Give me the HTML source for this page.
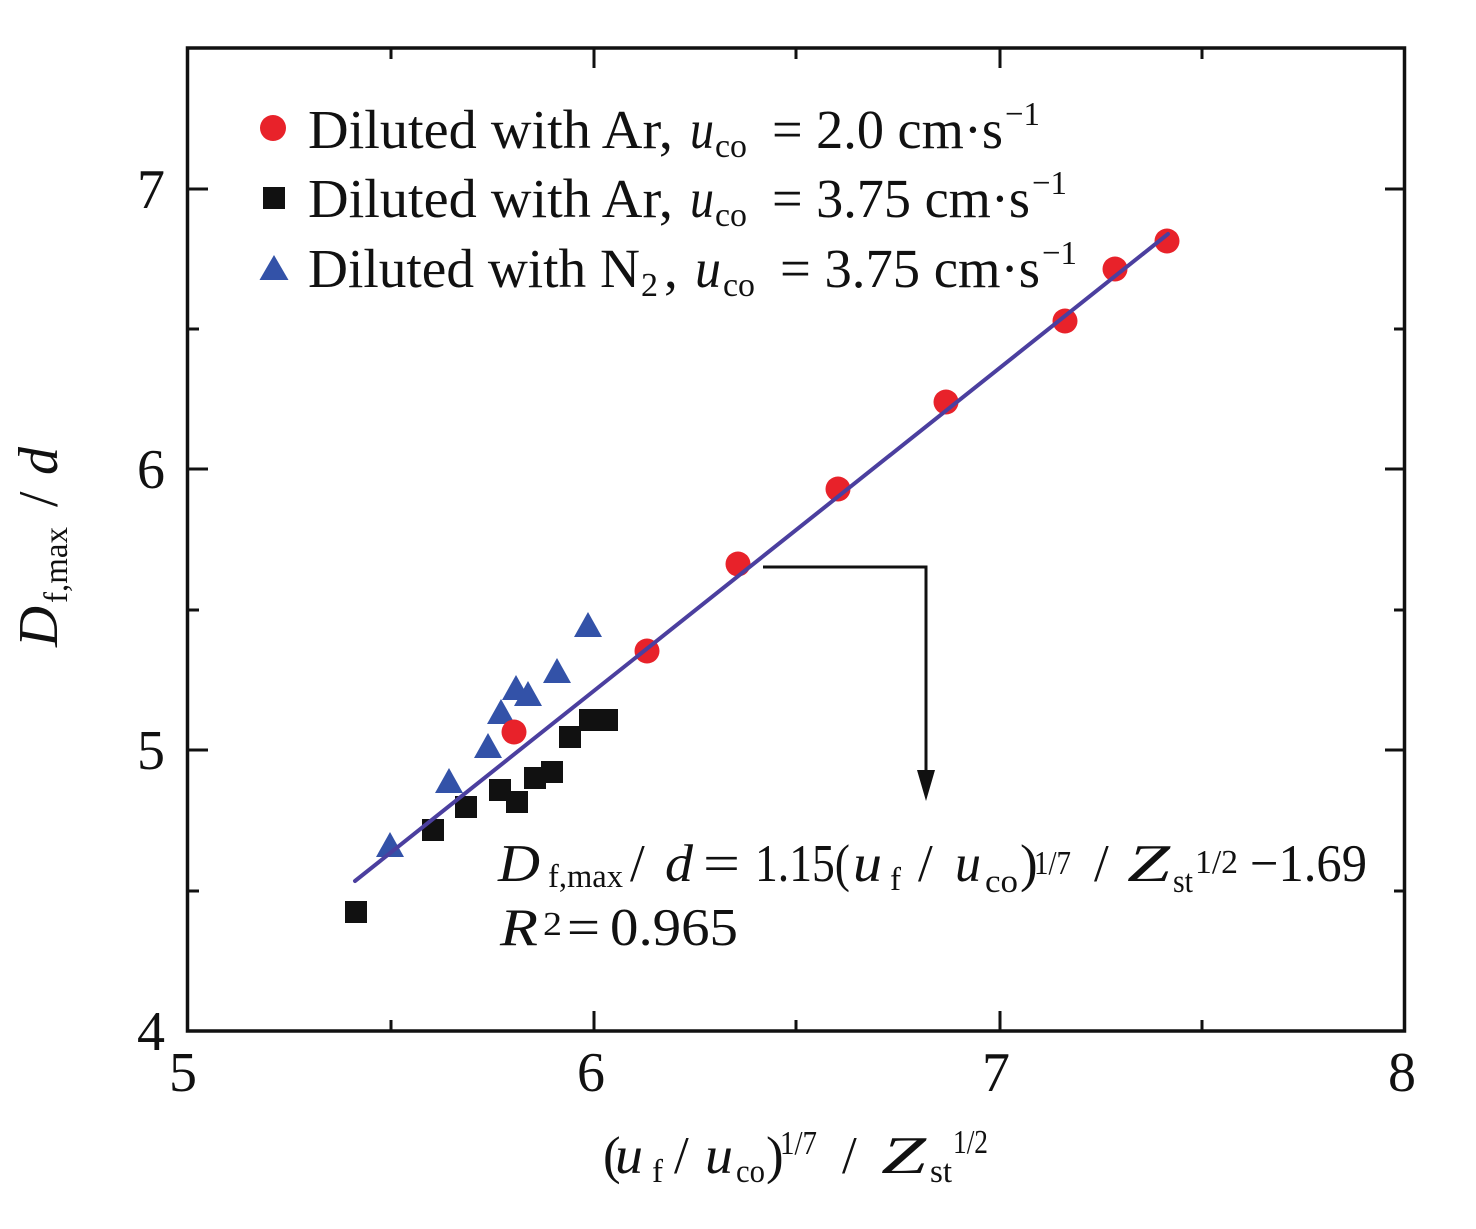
<!DOCTYPE html>
<html>
<head>
<meta charset="utf-8">
<style>
  html, body { margin: 0; padding: 0; background: #ffffff; }
  svg { display: block; }
  text { font-family: "Liberation Serif", "DejaVu Serif", serif; fill: #111; }
  .it { font-style: italic; }
</style>
</head>
<body>
<svg width="1476" height="1229" viewBox="0 0 1476 1229" xmlns="http://www.w3.org/2000/svg">
  <rect x="0" y="0" width="1476" height="1229" fill="#ffffff"/>

  <!-- Frame -->
  <rect x="187.5" y="48" width="1217" height="983" fill="none" stroke="#111" stroke-width="3.5"/>

  <g stroke="#111" stroke-width="3">
    <line x1="391" y1="1031" x2="391" y2="1020"/>
    <line x1="594" y1="1031" x2="594" y2="1011"/>
    <line x1="796" y1="1031" x2="796" y2="1020"/>
    <line x1="1000" y1="1031" x2="1000" y2="1011"/>
    <line x1="1202" y1="1031" x2="1202" y2="1020"/>
    <line x1="391" y1="48" x2="391" y2="59"/>
    <line x1="594" y1="48" x2="594" y2="68"/>
    <line x1="796" y1="48" x2="796" y2="59"/>
    <line x1="1000" y1="48" x2="1000" y2="68"/>
    <line x1="1202" y1="48" x2="1202" y2="59"/>
    <line x1="188" y1="891" x2="199" y2="891"/>
    <line x1="188" y1="750" x2="208" y2="750"/>
    <line x1="188" y1="610" x2="199" y2="610"/>
    <line x1="188" y1="469" x2="208" y2="469"/>
    <line x1="188" y1="329" x2="199" y2="329"/>
    <line x1="188" y1="189" x2="208" y2="189"/>
    <line x1="1405" y1="891" x2="1394" y2="891"/>
    <line x1="1405" y1="750" x2="1385" y2="750"/>
    <line x1="1405" y1="610" x2="1394" y2="610"/>
    <line x1="1405" y1="469" x2="1385" y2="469"/>
    <line x1="1405" y1="329" x2="1394" y2="329"/>
    <line x1="1405" y1="189" x2="1385" y2="189"/>
  </g>

  <!-- Y tick labels -->
  <g font-size="56" text-anchor="middle">
    <text x="151" y="208">7</text>
    <text x="151" y="488">6</text>
    <text x="151" y="769">5</text>
    <text x="151" y="1050">4</text>
  </g>
  <!-- X tick labels -->
  <g font-size="56" text-anchor="middle">
    <text x="183" y="1091">5</text>
    <text x="591" y="1091">6</text>
    <text x="996" y="1091">7</text>
    <text x="1402" y="1091">8</text>
  </g>

  <!-- Y axis title (rotated) -->
  <g transform="translate(57,647) rotate(-90)">
    <text x="0" y="0" font-size="56" class="it" textLength="41" lengthAdjust="spacingAndGlyphs">D</text>
    <text x="44" y="10" font-size="34" textLength="76" lengthAdjust="spacingAndGlyphs">f,max</text>
    <text x="140" y="0" font-size="56">/</text>
    <text x="172" y="0" font-size="56" class="it">d</text>
  </g>

  <!-- X axis title -->
  <g>
    <text x="603" y="1173" font-size="53">(</text>
    <text x="615" y="1173" font-size="53" class="it" textLength="28" lengthAdjust="spacingAndGlyphs">u</text>
    <text x="652" y="1182" font-size="33">f</text>
    <text x="674" y="1173" font-size="53">/</text>
    <text x="705" y="1173" font-size="53" class="it" textLength="28" lengthAdjust="spacingAndGlyphs">u</text>
    <text x="736" y="1182" font-size="33" textLength="29" lengthAdjust="spacingAndGlyphs">co</text>
    <text x="766" y="1173" font-size="53">)</text>
    <text x="780" y="1154" font-size="34" textLength="37" lengthAdjust="spacingAndGlyphs">1/7</text>
    <text x="842" y="1173" font-size="53">/</text>
    <text x="881" y="1173" font-size="53" class="it" textLength="45" lengthAdjust="spacingAndGlyphs">Z</text>
    <text x="930" y="1182" font-size="33" textLength="22" lengthAdjust="spacingAndGlyphs">st</text>
    <text x="953" y="1153" font-size="34" textLength="35" lengthAdjust="spacingAndGlyphs">1/2</text>
  </g>

  <!-- Legend -->
  <circle cx="273" cy="128" r="13" fill="#e8222a"/>
  <rect x="263" y="187" width="22" height="22" fill="#111"/>
  <polygon points="259.5,280 288.5,280 274,255" fill="#3352a8"/>

  <g font-size="55">
    <text x="308" y="148" textLength="365" lengthAdjust="spacingAndGlyphs">Diluted with Ar,</text>
    <text x="690" y="148" class="it" textLength="24" lengthAdjust="spacingAndGlyphs">u</text>
    <text x="715" y="157" font-size="34" textLength="32" lengthAdjust="spacingAndGlyphs">co</text>
    <text x="772" y="148" textLength="231" lengthAdjust="spacingAndGlyphs">= 2.0 cm·s</text>
    <text x="1005" y="125" font-size="34" textLength="35" lengthAdjust="spacingAndGlyphs">−1</text>

    <text x="308" y="217" textLength="365" lengthAdjust="spacingAndGlyphs">Diluted with Ar,</text>
    <text x="690" y="217" class="it" textLength="24" lengthAdjust="spacingAndGlyphs">u</text>
    <text x="715" y="226" font-size="34" textLength="32" lengthAdjust="spacingAndGlyphs">co</text>
    <text x="772" y="217" textLength="258" lengthAdjust="spacingAndGlyphs">= 3.75 cm·s</text>
    <text x="1032" y="194" font-size="34" textLength="35" lengthAdjust="spacingAndGlyphs">−1</text>

    <text x="308" y="287" textLength="332" lengthAdjust="spacingAndGlyphs">Diluted with N</text>
    <text x="641" y="296" font-size="34">2</text>
    <text x="664" y="287">,</text>
    <text x="695" y="287" class="it" textLength="26" lengthAdjust="spacingAndGlyphs">u</text>
    <text x="723" y="296" font-size="34" textLength="32" lengthAdjust="spacingAndGlyphs">co</text>
    <text x="780" y="287" textLength="260" lengthAdjust="spacingAndGlyphs">= 3.75 cm·s</text>
    <text x="1042" y="264" font-size="34" textLength="35" lengthAdjust="spacingAndGlyphs">−1</text>
  </g>

  <!-- Black squares -->
  <g fill="#111">
    <rect x="345" y="901" width="22" height="22"/>
    <rect x="422" y="819" width="22" height="22"/>
    <rect x="455" y="796" width="22" height="22"/>
    <rect x="489" y="779" width="22" height="22"/>
    <rect x="506" y="791" width="22" height="22"/>
    <rect x="524" y="767" width="22" height="22"/>
    <rect x="541" y="761" width="22" height="22"/>
    <rect x="559" y="726" width="22" height="22"/>
    <rect x="579" y="709" width="22" height="22"/>
    <rect x="596" y="709" width="22" height="22"/>
  </g>

  <!-- Blue triangles -->
  <g fill="#3352a8">
    <polygon points="376,857 404,857 390,832"/>
    <polygon points="435,793 463,793 449,768"/>
    <polygon points="474,758 502,758 488,733"/>
    <polygon points="487,724 515,724 501,699"/>
    <polygon points="502,700 530,700 516,675"/>
    <polygon points="514,706 542,706 528,681"/>
    <polygon points="543,683 571,683 557,658"/>
    <polygon points="574,637 602,637 588,612"/>
  </g>

  <!-- Red circles -->
  <g fill="#e8222a">
    <circle cx="514" cy="732" r="12.5"/>
    <circle cx="647" cy="651" r="12.5"/>
    <circle cx="738" cy="564" r="12.5"/>
    <circle cx="838" cy="489" r="12.5"/>
    <circle cx="946" cy="402" r="12.5"/>
    <circle cx="1065" cy="321" r="12.5"/>
    <circle cx="1115" cy="269" r="12.5"/>
    <circle cx="1167" cy="241" r="12.5"/>
  </g>

  <!-- Fit line -->
  <line x1="355" y1="881" x2="1168" y2="234" stroke="#4b3f9f" stroke-width="4" stroke-linecap="round"/>

  <!-- Arrow -->
  <polyline points="763,567 926,567 926,778" fill="none" stroke="#111" stroke-width="3"/>
  <polygon points="917,770 935,770 926,801" fill="#111"/>

  <!-- Equation -->
  <g font-size="53">
    <text x="498" y="881" class="it" textLength="42" lengthAdjust="spacingAndGlyphs">D</text>
    <text x="548" y="887" font-size="33" textLength="75" lengthAdjust="spacingAndGlyphs">f,max</text>
    <text x="630" y="881">/</text>
    <text x="665" y="881" class="it" textLength="28" lengthAdjust="spacingAndGlyphs">d</text>
    <text x="703" y="881" textLength="37" lengthAdjust="spacingAndGlyphs">=</text>
    <text x="755" y="881" textLength="95" lengthAdjust="spacingAndGlyphs">1.15(</text>
    <text x="853" y="881" class="it" textLength="29" lengthAdjust="spacingAndGlyphs">u</text>
    <text x="890" y="890" font-size="33">f</text>
    <text x="918" y="881">/</text>
    <text x="955" y="881" class="it" textLength="26" lengthAdjust="spacingAndGlyphs">u</text>
    <text x="985" y="892" font-size="33" textLength="33" lengthAdjust="spacingAndGlyphs">co</text>
    <text x="1020" y="881">)</text>
    <text x="1034" y="874" font-size="34" textLength="37" lengthAdjust="spacingAndGlyphs">1/7</text>
    <text x="1094" y="881">/</text>
    <text x="1127" y="881" class="it" textLength="43" lengthAdjust="spacingAndGlyphs">Z</text>
    <text x="1173" y="892" font-size="33" textLength="20" lengthAdjust="spacingAndGlyphs">st</text>
    <text x="1195" y="873" font-size="34" textLength="43" lengthAdjust="spacingAndGlyphs">1/2</text>
    <text x="1250" y="881" textLength="117" lengthAdjust="spacingAndGlyphs">−1.69</text>

    <text x="500" y="945" class="it" textLength="38" lengthAdjust="spacingAndGlyphs">R</text>
    <text x="543" y="935" font-size="34" textLength="19" lengthAdjust="spacingAndGlyphs">2</text>
    <text x="567" y="945" textLength="33" lengthAdjust="spacingAndGlyphs">=</text>
    <text x="610" y="945" textLength="128" lengthAdjust="spacingAndGlyphs">0.965</text>
  </g>
</svg>
</body>
</html>
